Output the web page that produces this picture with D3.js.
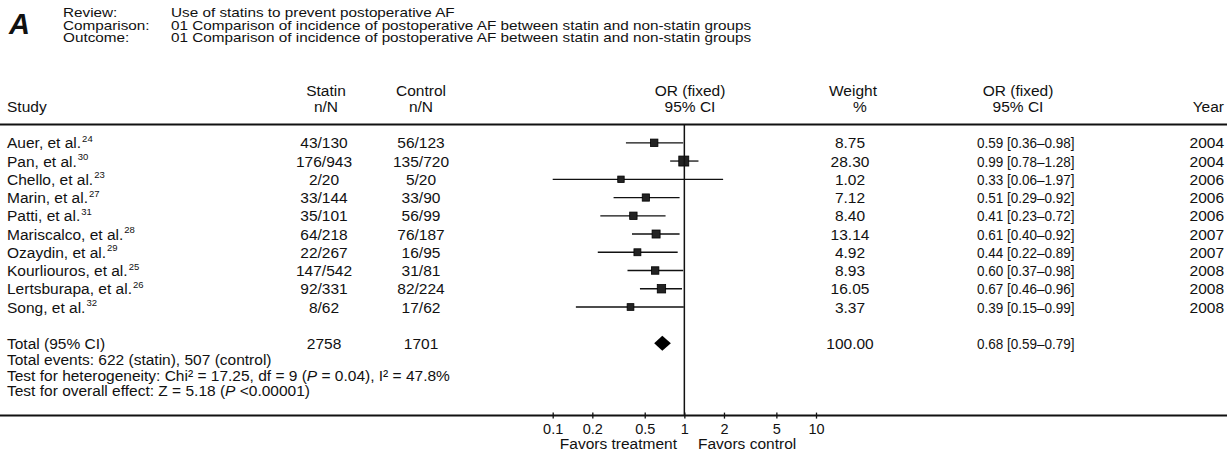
<!DOCTYPE html>
<html>
<head>
<meta charset="utf-8">
<script src="https://cdn.jsdelivr.net/npm/d3@7"></script>
<style>
  body { margin: 0; background: #fff; }
  svg text { font-family: "Liberation Sans", Arial, sans-serif; fill: #111; }
</style>
</head>
<body>
<svg id="forest" width="1227" height="462"></svg>
<script>
// data
var studies = ["Auer, et al.", "Pan, et al.", "Chello, et al.", "Marin, et al.", "Patti, et al.",
    "Mariscalco, et al.", "Ozaydin, et al.", "Kourliouros, et al.", "Lertsburapa, et al.", "Song, et al."];
var refs = ["24", "30", "23", "27", "31", "28", "29", "25", "26", "32"];
var statinN = ["43/130", "176/943", "2/20", "33/144", "35/101", "64/218", "22/267", "147/542", "92/331", "8/62"];
var controlN = ["56/123", "135/720", "5/20", "33/90", "56/99", "76/187", "16/95", "31/81", "82/224", "17/62"];
var oddsRatio = [0.59, 0.99, 0.33, 0.51, 0.41, 0.61, 0.44, 0.60, 0.67, 0.39];
var ciLow = [0.36, 0.78, 0.06, 0.29, 0.23, 0.40, 0.22, 0.37, 0.46, 0.15];
var ciHigh = [0.98, 1.28, 1.97, 0.92, 0.72, 0.92, 0.89, 0.98, 0.96, 0.99];
var weights = [8.75, 28.30, 1.02, 7.12, 8.40, 13.14, 4.92, 8.93, 16.05, 3.37];
var years = ["2004", "2004", "2006", "2006", "2006", "2007", "2007", "2008", "2008", "2008"];

var total = { statin: "2758", control: "1701", weight: 100.00, or: 0.68, lo: 0.59, hi: 0.79 };
var axisTicks = [0.1, 0.2, 0.5, 1, 2, 5, 10];

var svg = d3.select("#forest");
var fs = 15.5;
var base = 5.5; // baseline offset from the row centre

var col = {
    study: 7, statin: 324, control: 421, plot: 690,
    weight: 850, orText: 977, orHead: 1018, year: 1224
};

var x = d3.scaleLog().domain([0.1, 10]).range([552.7, 816]);
var y = d3.scaleLinear().domain([0, studies.length - 1]).range([142.8, 307]);
var boxSize = d3.scaleLinear().domain([0, 30]).range([6.3, 10.2]);
var f2 = d3.format(".2f");

function txt(xp, yp, s, anchor, size, sx, sy) {
    return svg.append("text")
        .attr("transform", "translate(" + xp + "," + yp + ") scale(" + (sx || 1) + "," + (sy || 1) + ")")
        .attr("text-anchor", anchor || "start")
        .attr("font-size", size || fs)
        .text(s);
}

function ciText(o, l, h) {
    return f2(o) + " [" + f2(l) + "\u2013" + f2(h) + "]";
}

// panel letter and review info
svg.append("text")
    .attr("x", 9)
    .attr("y", 33.5)
    .attr("font-size", 29)
    .attr("font-weight", "bold")
    .attr("font-style", "italic")
    .text("A");

var infoLabels = ["Review:", "Comparison:", "Outcome:"];
var infoValues = ["Use of statins to prevent postoperative AF",
    "01 Comparison of incidence of postoperative AF between statin and non-statin groups",
    "01 Comparison of incidence of postoperative AF between statin and non-statin groups"];
infoLabels.forEach(function (l, i) {
    txt(63, 17 + i * 12.6, l, "start", 15.3, 1, 0.84);
    txt(171, 17 + i * 12.6, infoValues[i], "start", 15.3, 1, 0.84);
});

// column headers
var h1 = 90 + base, h2 = 106.7 + base;
txt(col.study, h2, "Study");
txt(col.statin + 2, h1, "Statin", "middle");
txt(col.statin + 2, h2, "n/N", "middle");
txt(col.control, h1, "Control", "middle");
txt(col.control, h2, "n/N", "middle");
txt(col.plot, h1, "OR (fixed)", "middle");
txt(col.plot, h2, "95% CI", "middle");
txt(853, h1, "Weight", "middle");
txt(860, h2, "%", "middle");
txt(col.orHead, h1, "OR (fixed)", "middle");
txt(col.orHead, h2, "95% CI", "middle");
txt(col.year, h2, "Year", "end");

// rules
svg.append("line")
    .attr("x1", 0).attr("x2", 1227)
    .attr("y1", 124.6).attr("y2", 124.6)
    .attr("stroke", "#111").attr("stroke-width", 2);
svg.append("line")
    .attr("x1", 0).attr("x2", 1227)
    .attr("y1", 415.6).attr("y2", 415.6)
    .attr("stroke", "#111").attr("stroke-width", 2);

// study rows
var rows = svg.selectAll("g.row")
    .data(studies)
    .enter()
    .append("g")
    .attr("class", "row")
    .attr("transform", (d, i) => "translate(0," + y(i) + ")");

var label = rows.append("text")
    .attr("x", col.study)
    .attr("y", base)
    .attr("font-size", fs)
    .text((d) => d);
label.append("tspan")
    .attr("font-size", 9.5)
    .attr("dy", -6.5)
    .attr("dx", 1)
    .text((d, i) => refs[i]);

rows.append("text").attr("x", col.statin).attr("y", base).attr("font-size", fs)
    .attr("text-anchor", "middle").text((d, i) => statinN[i]);
rows.append("text").attr("x", col.control).attr("y", base).attr("font-size", fs)
    .attr("text-anchor", "middle").text((d, i) => controlN[i]);
rows.append("text").attr("x", col.weight).attr("y", base).attr("font-size", fs)
    .attr("text-anchor", "middle").text((d, i) => f2(weights[i]));
rows.append("text")
    .attr("transform", "translate(" + col.orText + "," + base + ") scale(0.87,1)")
    .attr("font-size", fs)
    .text((d, i) => ciText(oddsRatio[i], ciLow[i], ciHigh[i]));
rows.append("text").attr("x", col.year).attr("y", base).attr("font-size", fs)
    .attr("text-anchor", "end").text((d, i) => years[i]);

// confidence intervals, clipped to the plotted range
rows.append("line")
    .attr("x1", (d, i) => x(Math.max(ciLow[i], 0.1)))
    .attr("x2", (d, i) => x(Math.min(ciHigh[i], 10)))
    .attr("y1", 0).attr("y2", 0)
    .attr("stroke", "#111").attr("stroke-width", 1.3);
rows.append("rect")
    .attr("x", (d, i) => x(oddsRatio[i]) - boxSize(weights[i]) / 2)
    .attr("y", (d, i) => -boxSize(weights[i]) / 2)
    .attr("width", (d, i) => boxSize(weights[i]))
    .attr("height", (d, i) => boxSize(weights[i]))
    .attr("fill", "#222")
    .attr("stroke", "#000")
    .attr("stroke-width", 0.8);

// total row
var yt = 343.3;
txt(col.study, yt + base, "Total (95% CI)");
txt(col.statin, yt + base, total.statin, "middle");
txt(col.control, yt + base, total.control, "middle");
txt(col.weight, yt + base, f2(total.weight), "middle");
txt(col.orText, yt + base, ciText(total.or, total.lo, total.hi), "start", fs, 0.87);

svg.append("path")
    .attr("d", "M" + x(total.lo) + "," + yt +
        "L" + x(total.or) + "," + (yt - 7.5) +
        "L" + x(total.hi) + "," + yt +
        "L" + x(total.or) + "," + (yt + 7.5) + "Z")
    .attr("fill", "#000");

txt(col.study, 359.3 + base, "Total events: 622 (statin), 507 (control)");
var het = txt(col.study, 375 + base, "Test for heterogeneity: Chi\u00b2 = 17.25, df = 9 (");
het.append("tspan").attr("font-style", "italic").text("P");
het.append("tspan").text(" = 0.04), I\u00b2 = 47.8%");
var ov = txt(col.study, 390.6 + base, "Test for overall effect: Z = 5.18 (");
ov.append("tspan").attr("font-style", "italic").text("P");
ov.append("tspan").text(" <0.00001)");

// line of no effect
svg.append("line")
    .attr("x1", x(1)).attr("x2", x(1))
    .attr("y1", 124.6).attr("y2", 415.6)
    .attr("stroke", "#111").attr("stroke-width", 1.5);

// log axis
var axis = svg.append("g")
    .attr("transform", "translate(0,415.6)")
    .call(d3.axisBottom(x).tickValues(axisTicks).tickFormat((d) => d).tickSize(3).tickPadding(5));
axis.select(".domain").remove();
axis.selectAll(".tick line").attr("y1", -3).attr("stroke", "#111").attr("stroke-width", 1.3);
axis.selectAll(".tick text")
    .attr("font-family", "Liberation Sans, Arial, sans-serif")
    .attr("font-size", 14.5)
    .attr("fill", "#111");

txt(677, 443.2 + base, "Favors treatment", "end");
txt(698, 443.2 + base, "Favors control", "start");
</script>
</body>
</html>
